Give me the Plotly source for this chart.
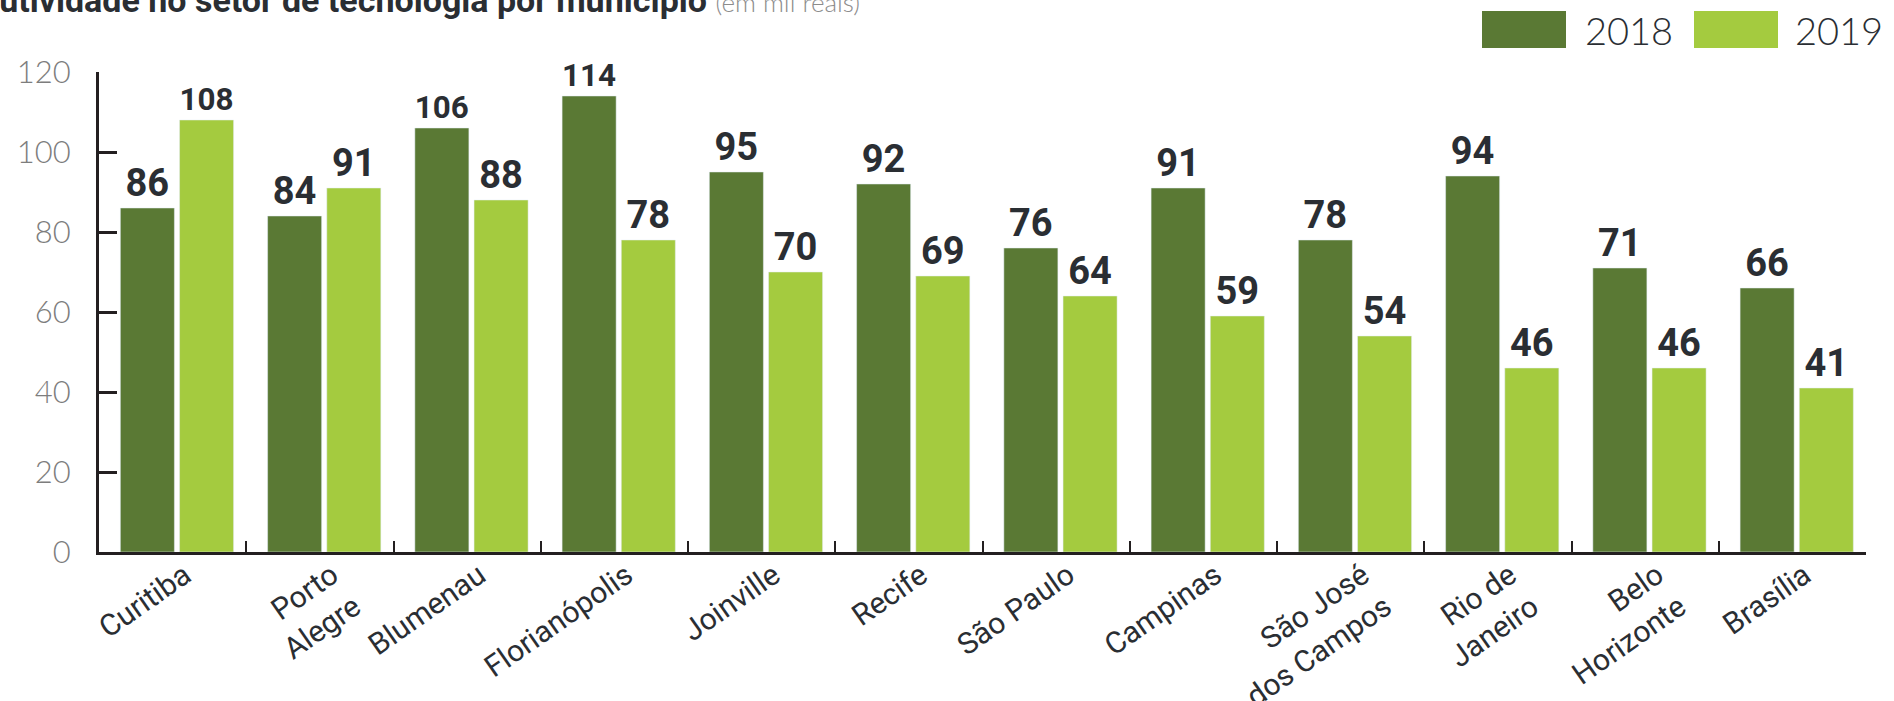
import plotly.graph_objects as go

# Productivity in the technology sector by city (thousand reais)
cities = [
    "Curitiba", "Porto<br>Alegre", "Blumenau", "Florianópolis", "Joinville",
    "Recife", "São Paulo", "Campinas", "São José<br>dos Campos", "Rio de<br>Janeiro",
    "Belo<br>Horizonte", "Brasília",
]
values_2018 = [86, 84, 106, 114, 95, 92, 76, 91, 78, 94, 71, 66]
values_2019 = [108, 91, 88, 78, 70, 69, 64, 59, 54, 46, 46, 41]
y_ticks = [0, 20, 40, 60, 80, 100, 120]

DARK_GREEN = "#5a7934"
LIME = "#a4cb3f"
INK = "#2a2e33"
AXIS = "#231f20"
LIGHT_FONT = "Lato Light, Lato"

W, H = 1894, 701
L, R, T, B = 99, 1866, 72, 552


def px_x(px):
    return (px - L) / (R - L)


def px_y(py):
    return (B - py) / (B - T)


label_font = dict(family="Roboto", size=38, color=INK, weight="bold")

fig = go.Figure()
fig.add_trace(go.Bar(
    name="2018", x=cities, y=values_2018, marker_color=DARK_GREEN,
    width=0.367, offset=-0.355,
    text=values_2018, textposition="outside", textfont=label_font,
    cliponaxis=False,
))
fig.add_trace(go.Bar(
    name="2019", x=cities, y=values_2019, marker_color=LIME,
    width=0.367, offset=0.047,
    text=values_2019, textposition="outside", textfont=label_font,
    cliponaxis=False,
))

fig.update_layout(
    width=W, height=H,
    margin=dict(l=L, r=W - R, t=T, b=H - B, pad=0, autoexpand=False),
    plot_bgcolor="white", paper_bgcolor="white",
    barmode="overlay", showlegend=False,
)

fig.update_yaxes(
    range=[0, 120], tickvals=y_ticks, automargin=False,
    showgrid=False, zeroline=False,
    showline=True, linecolor=AXIS, linewidth=3,
    ticks="inside", ticklen=18, tickwidth=2.5, tickcolor=AXIS,
    tickfont=dict(family=LIGHT_FONT, size=31, color="#7d7d7d", weight=300),
    ticklabelstandoff=19,
)
fig.update_xaxes(
    automargin=False,
    showgrid=False, zeroline=False,
    showline=True, linecolor=AXIS, linewidth=3,
    ticks="inside", tickson="boundaries", ticklen=11, tickwidth=2, tickcolor=AXIS,
    tickangle=-35,
    tickfont=dict(family="Roboto", size=30, color=INK),
    ticklabelshift=12, ticklabelstandoff=-9,
)

# Title (runs off the left edge of the page)
fig.add_annotation(
    xref="paper", yref="paper", x=px_x(862), y=px_y(22),
    xanchor="right", yanchor="bottom", showarrow=False, align="right",
    text=("<b>Produtividade no setor de tecnologia por município</b> "
          "<span style='font-family:Lato;font-weight:300;color:#8c8c8c;font-size:26px'>(em mil reais)</span>"),
    font=dict(family="Roboto", size=34, color=INK),
)

# Legend drawn as large swatches
legend_items = [("2018", DARK_GREEN, 1482, 1583), ("2019", LIME, 1694, 1793)]
for label, color, box_x, text_x in legend_items:
    fig.add_shape(
        type="rect", xref="paper", yref="paper",
        x0=px_x(box_x), x1=px_x(box_x + 84), y0=px_y(48), y1=px_y(11),
        fillcolor=color, line=dict(width=0),
    )
    fig.add_annotation(
        xref="paper", yref="paper", x=px_x(text_x), y=px_y(30),
        xanchor="left", yanchor="middle", showarrow=False,
        text=label, font=dict(family=LIGHT_FONT, size=38, color=INK, weight=300),
    )

fig.write_html("out.html")
